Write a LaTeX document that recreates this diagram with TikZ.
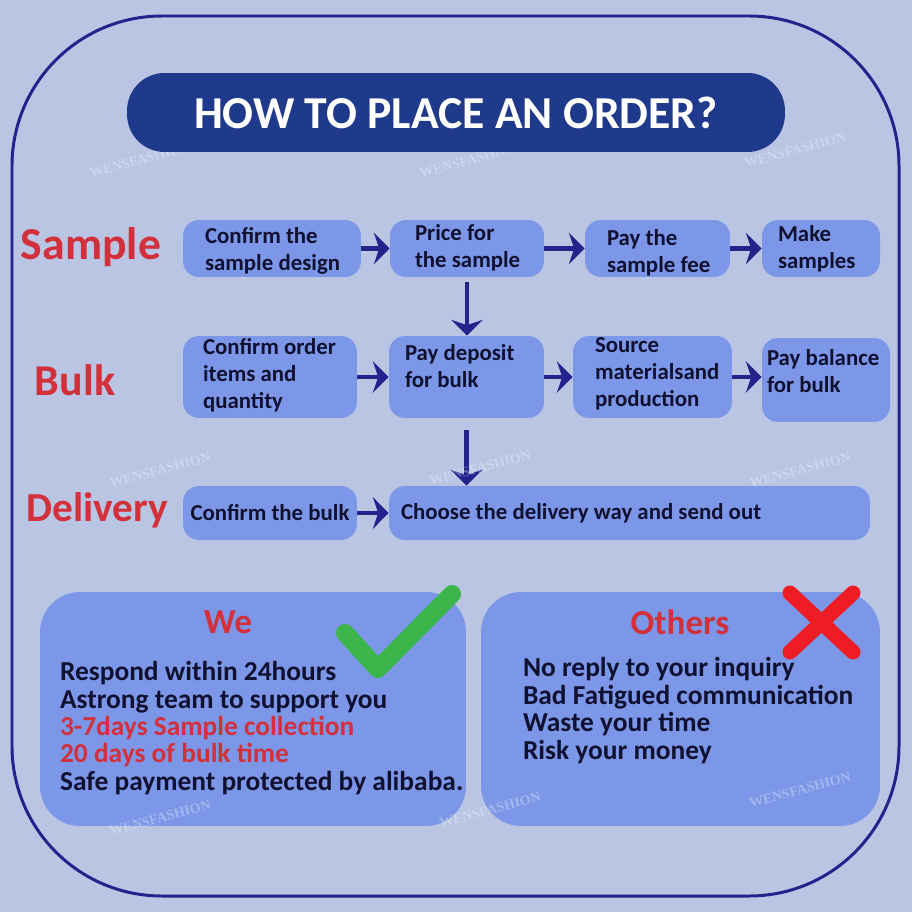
\documentclass[tikz,border=0pt]{standalone}
\usepackage{fontspec}
\setmainfont{Carlito}
\newfontfamily\wmfont{Liberation Serif}
\usepackage{xcolor}
\usepackage{tikz}
\usetikzlibrary{positioning,arrows.meta}

\definecolor{bgblue}{HTML}{B9C5E3}
\definecolor{framenavy}{HTML}{22248C}
\definecolor{titleblue}{HTML}{1F3A8B}
\definecolor{boxblue}{HTML}{7C97E8}
\definecolor{ordred}{HTML}{D2303A}
\definecolor{tickgreen}{HTML}{3CB54A}
\definecolor{crossred}{HTML}{EE1C25}
\definecolor{inkdark}{HTML}{101030}

\tikzset{
	box/.style={fill=boxblue,rounded corners=0.32cm,inner sep=0pt},
	boxtext/.style={font=\fontsize{13}{15.4}\selectfont\bfseries,text=inkdark,align=left,inner sep=0pt},
	rowlabel/.style={font=\fontsize{25}{28}\selectfont\bfseries,text=ordred},
	arr/.style={draw=framenavy,line width=2.8pt,-{Stealth[length=9pt,width=18pt,inset=3pt]}},
	panel/.style={fill=boxblue,rounded corners=0.8cm,inner sep=0pt},
	panelhead/.style={font=\fontsize{20}{22}\selectfont\bfseries,text=ordred},
	listtext/.style={font=\fontsize{15.6}{15.6}\selectfont\bfseries,text=inkdark,align=left,inner sep=0pt},
	wmark/.style={font=\wmfont\fontsize{8}{8}\selectfont\bfseries,text=white,opacity=0.3,rotate=15}
}

\begin{document}
\begin{tikzpicture}[x=0.02cm,y=-0.02cm]
	% background and frame
	\fill[bgblue] (0,0) rectangle (912,912);
	\draw[framenavy,line width=1.7pt,rounded corners=3cm] (12,16) rectangle (899,896);

	% Sample
	\node[rowlabel,font=\fontsize{26}{28}\selectfont\bfseries] (sample) at (91,247) {Sample};
	\node[box,minimum width=3.56cm,minimum height=1.14cm] (b1) at (272,248.5) {};
	\node[box,minimum width=3.08cm,minimum height=1.14cm] (b2) at (467,248.5) {};
	\node[box,minimum width=2.9cm,minimum height=1.14cm] (b3) at (657.5,248.5) {};
	\node[box,minimum width=2.36cm,minimum height=1.14cm] (b4) at (821,248.5) {};
	\node[boxtext,right=0.44cm of b1.west,yshift=-0.04cm] (t1) {Confirm the\\sample design};
	\node[boxtext,right=0.5cm of b2.west,yshift=0.02cm] (t2) {Price for\\the sample};
	\node[boxtext,right=0.44cm of b3.west,yshift=-0.08cm] (t3) {Pay the\\sample fee};
	\node[boxtext,right=0.32cm of b4.west] (t4) {Make\\samples};

	% Bulk
	\node[rowlabel] (bulk) at (75,380) {Bulk};
	\node[box,minimum width=3.48cm,minimum height=1.64cm] (b5) at (270,377) {};
	\node[box,minimum width=3.1cm,minimum height=1.64cm] (b6) at (466.5,377) {};
	\node[box,minimum width=3.18cm,minimum height=1.64cm] (b7) at (652.5,377) {};
	\node[box,minimum width=2.56cm,minimum height=1.68cm] (b8) at (826,380) {};
	\node[boxtext,right=0.4cm of b5.west,yshift=0.04cm] (t5) {Confirm order\\items and\\quantity};
	\node[boxtext,right=0.32cm of b6.west,yshift=0.21cm] (t6) {Pay deposit\\for bulk};
	\node[boxtext,right=0.44cm of b7.west,yshift=0.06cm] (t7) {Source\\materialsand\\production};
	\node[boxtext,right=0.1cm of b8.west,yshift=0.17cm] (t8) {Pay balance\\for bulk};

	% Delivery
	\node[rowlabel,font=\fontsize{23.5}{26}\selectfont\bfseries] (delivery) at (97,510) {Delivery};
	\node[box,minimum width=3.48cm,minimum height=1.08cm] (b9) at (270,513) {};
	\node[box,minimum width=9.62cm,minimum height=1.08cm] (b10) at (629.5,513) {};
	\node[boxtext] (t9) at (b9) {Confirm the bulk};
	\node[boxtext,right=0.24cm of b10.west] (t10) {Choose the delivery way and send out};

	% arrows
	\draw[arr] (b1) -- (b2);
	\draw[arr] (b2) -- (b3);
	\draw[arr] (b3) -- (b4);
	\draw[arr,shorten <=0.1cm] (b2.south) -- (b2.south |- b6.north);
	\draw[arr] (b5) -- (b6);
	\draw[arr] (b6) -- (b7);
	\draw[arr] (b7.east) -- (b7.east -| b8.west);
	\draw[arr,shorten <=0.24cm] (b6.south) -- (b6.south |- b10.north);
	\draw[arr] (b9) -- (b10);

	% We / Others
	\node[panel,minimum width=8.52cm,minimum height=4.68cm] (we) at (253,709) {};
	\node[panel,minimum width=7.98cm,minimum height=4.68cm] (others) at (680.5,709) {};
	\node[panelhead] (wehead) at (228,622) {We};
	\node[panelhead] (othershead) at (680,622) {Others};
	\node[listtext,right=0.4cm of we.west,yshift=-0.38cm] (welist) {Respond within 24hours\\Astrong team to support you\\\textcolor{ordred}{3-7days Sample collection}\\\textcolor{ordred}{20 days of bulk time}\\Safe payment protected by alibaba.};
	\node[listtext,right=0.84cm of others.west,yshift=-0.03cm] (otherslist) {No reply to your inquiry\\Bad Fatigued communication\\Waste your time\\Risk your money};
	\draw[tickgreen,line width=0.36cm,line cap=round,line join=round] (345,633) -- (378,669) -- (452,594);
	\draw[crossred,line width=0.3cm,line cap=round] (790,593) -- (853,652) (853,593) -- (790,652);

	% watermarks
	\foreach \wx/\wy [count=\i] in {140/160,470/160,795/150,160/470,480/468,800/470,160/818,490/810,800/790}
		\node[wmark] (wm\i) at (\wx,\wy) {WENSFASHION};

	% title
	\node[fill=titleblue,rounded corners=0.75cm,minimum width=13.16cm,minimum height=1.58cm,text=white,font=\fontsize{26}{30}\selectfont\bfseries] (title) at (456,112.5) {HOW TO PLACE AN ORDER?};
\end{tikzpicture}
\end{document}
